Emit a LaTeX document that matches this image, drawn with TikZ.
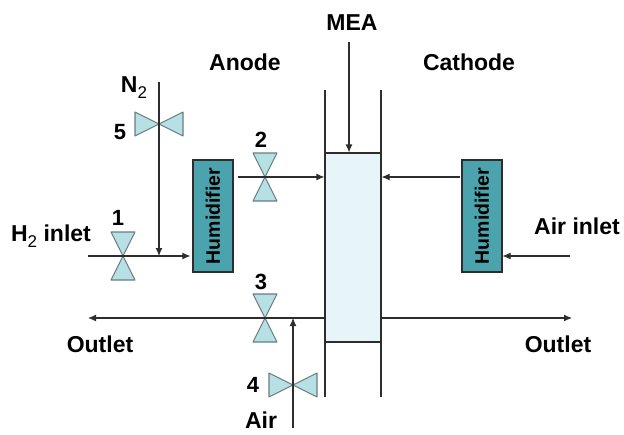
\documentclass[tikz,border=0pt]{standalone}
\usepackage{fontspec}
\setmainfont{Liberation Sans}
\usetikzlibrary{arrows.meta}
\newcommand{\subtwo}{{\mdseries\fontsize{17}{17}\selectfont\raisebox{-6pt}{2}}}
\definecolor{linegray}{RGB}{45,45,45}
\definecolor{humteal}{RGB}{75,163,173}
\definecolor{valveblue}{RGB}{182,224,228}
\definecolor{valveedge}{RGB}{105,125,130}
\definecolor{meablue}{RGB}{232,245,248}
\tikzset{
    x=1pt, y=-1pt,
    pipe/.style={draw=linegray, line width=1.1pt},
    arrow/.style={pipe, -{Latex[length=8pt,width=7pt]}},
    label/.style={font=\bfseries\fontsize{23}{25}\selectfont, text=black, inner sep=0pt},
    number/.style={font=\bfseries\fontsize{22}{24}\selectfont, text=black, inner sep=0pt},
    humidifier/.style={rectangle, draw=linegray, line width=1.1pt, fill=humteal, text=black,
        minimum width=112pt, minimum height=40pt, inner sep=0pt, rotate=90,
        font=\bfseries\fontsize{19.5}{21}\selectfont},
    mea/.style={rectangle, draw=linegray, line width=1.1pt, fill=meablue,
        minimum width=56pt, minimum height=189pt, inner sep=0pt},
    valveshape/.style={draw=valveedge, line width=1.1pt, fill=valveblue, line join=round},
    pics/valveup/.style={code={\path[valveshape] (-12,-24) -- (12,-24) -- (-12,24) -- (12,24) -- cycle;}},
    pics/valveside/.style={code={\path[valveshape] (-24,-12) -- (-24,12) -- (24,-12) -- (24,12) -- cycle;}}
}
\begin{document}
\begin{tikzpicture}
\useasboundingbox (0,0) rectangle (624,434);

% Cell and humidifiers
\node[mea] (cell) at (353,247.5) {};
\node[humidifier] (humleft) at (213,216) {Humidifier};
\node[humidifier] (humright) at (482,216) {Humidifier};

% Valves
\pic at (123,256) {valveup};
\pic at (265,177) {valveup};
\pic at (265,318) {valveup};
\pic at (293,385) {valveside};
\pic at (159,124) {valveside};

% Free ends
\coordinate (walllefttop) at (325,90);
\coordinate (wallleftbot) at (325,397);
\coordinate (wallrighttop) at (381,90);
\coordinate (wallrightbot) at (381,397);
\coordinate (meastart) at (349,42);
\coordinate (nitrogen) at (159,82);
\coordinate (junction) at (159,256);
\coordinate (hydrogen) at (88,256);
\coordinate (humout) at (238,177);
\coordinate (cathodein) at (460,177);
\coordinate (airstart) at (570,256);
\coordinate (outletleft) at (88,318);
\coordinate (outletright) at (572,318);
\coordinate (anodeout) at (325,318);
\coordinate (cathodeout) at (381,318);
\coordinate (airbot) at (293,428);
\coordinate (airtop) at (293,318);

% Connections
\draw[pipe] (walllefttop) -- (wallleftbot);
\draw[pipe] (wallrighttop) -- (wallrightbot);
\draw[arrow] (meastart) -- (meastart |- cell.north);
\draw[arrow, shorten >=2pt] (hydrogen) -- (hydrogen -| humleft.north);
\draw[arrow] (humout) -- (humout -| cell.west);
\draw[arrow] (cathodein) -- (cathodein -| cell.east);
\draw[arrow] (airstart) -- (airstart -| humright.south);
\draw[arrow] (anodeout) -- (outletleft);
\draw[arrow] (cathodeout) -- (outletright);
\draw[arrow] (nitrogen) -- (junction);
\draw[arrow] (airbot) -- (airtop);

% Labels
\node[label] (meatext) at (352,23) {MEA};
\node[label] (anode) at (245,62) {Anode};
\node[label] (cathode) at (469,62) {Cathode};
\node[label] (ntwo) at (134,88) {N\subtwo};
\node[label] (hinlet) at (51,236) {H\subtwo{} inlet};
\node[label] (airinlet) at (577,226) {Air inlet};
\node[label] (outleft) at (100,344) {Outlet};
\node[label] (outright) at (558,344) {Outlet};
\node[label] (air) at (261,420) {Air};
\node[number] (one) at (118,218) {1};
\node[number] (two) at (261,140) {2};
\node[number] (three) at (261,282) {3};
\node[number] (four) at (253,385) {4};
\node[number] (five) at (120,132) {5};
\end{tikzpicture}
\end{document}
